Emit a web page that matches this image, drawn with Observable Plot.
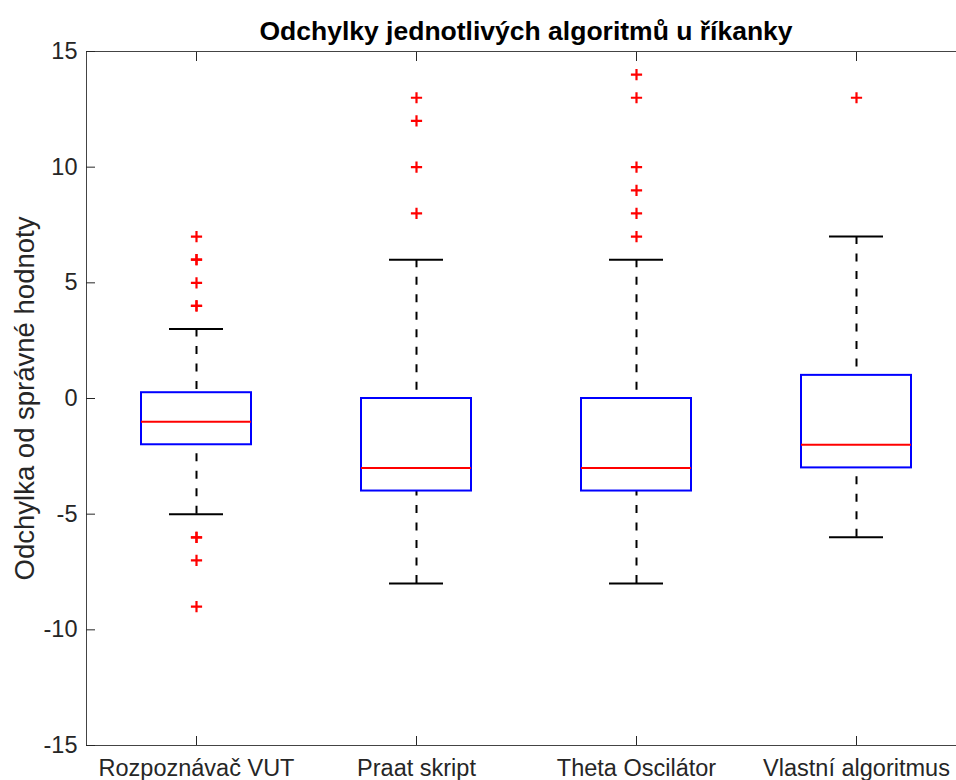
<!DOCTYPE html>
<html>
<head>
<meta charset="utf-8">
<script src="https://cdn.jsdelivr.net/npm/d3@7"></script>
<script src="https://cdn.jsdelivr.net/npm/@observablehq/plot@0.6"></script>
<style>
  html, body { margin: 0; padding: 0; overflow: hidden; background: white; width: 956px; height: 780px; }
  #wrap { position: relative; width: 956px; height: 780px; }
  #title { position: absolute; left: 526px; top: 18px; transform: translateX(-50%); white-space: nowrap;
    font: bold 26.5px "Liberation Sans", Arial, sans-serif; line-height: 26px; color: #000; z-index: 2; }
  #chart { position: absolute; left: 0; top: 0; }
</style>
</head>
<body>
<div id="wrap">
  <div id="title">Odchylky jednotlivých algoritmů u říkanky</div>
  <div id="chart"></div>
</div>
<script>
const categories = ["Rozpoznávač VUT", "Praat skript", "Theta Oscilátor", "Vlastní algoritmus"];
const q1 = [-2, -4, -4, -3];
const medians = [-1, -3, -3, -2];
const q3 = [0.25, 0, 0, 1];
const whiskerLow = [-5, -8, -8, -6];
const whiskerHigh = [3, 6, 6, 7];
const outliersVUT = [7, 6, 6, 5, 4, 4, -6, -6, -7, -9];
const outliersPraat = [13, 12, 10, 8];
const outliersTheta = [14, 13, 10, 9, 8, 7];
const outliersVlastni = [13];
const yTicks = [-15, -10, -5, 0, 5, 10, 15];
const yLabel = "Odchylka od správné hodnoty";

const boxes = categories.map((c, i) => ({
  cat: c, q1: q1[i], med: medians[i], q3: q3[i], lo: whiskerLow[i], hi: whiskerHigh[i]
}));
const outlierLists = [outliersVUT, outliersPraat, outliersTheta, outliersVlastni];
const outliers = outlierLists.flatMap((arr, i) => arr.map(v => ({cat: categories[i], v})));

const axisColor = "#262626";
const font = '"Liberation Sans", Arial, sans-serif';

const chart = Plot.plot({
  width: 956,
  height: 780,
  marginLeft: 86,
  marginTop: 51,
  marginBottom: 35,
  marginRight: 0,
  style: { fontFamily: font, fontSize: "23.5px", color: axisColor, background: "white", overflow: "visible" },
  x: { type: "band", domain: categories, range: [86, 966], padding: 0, label: null },
  y: { domain: [-15, 15], label: null },
  marks: [
    Plot.frame({ stroke: "#444", strokeWidth: 1 }),
    Plot.axisY(yTicks, { anchor: "left", tickSize: -9, tickPadding: 18, tickFormat: d => String(d), label: null, stroke: axisColor, fill: axisColor, fontSize: 23.5 }),
    Plot.axisX({ anchor: "bottom", tickSize: -9, tickPadding: 23, label: null, stroke: axisColor, fill: axisColor, fontSize: 23.5 }),
    Plot.axisX({ anchor: "top", tickSize: -9, tickFormat: () => "", label: null, stroke: axisColor }),
    // whiskers (dashed)
    Plot.ruleX(boxes, { x: "cat", y1: "hi", y2: "q3", stroke: "black", strokeWidth: 2, strokeDasharray: "8,9.5" }),
    Plot.ruleX(boxes, { x: "cat", y1: "lo", y2: "q1", stroke: "black", strokeWidth: 2, strokeDasharray: "8,9.5" }),
    // whisker caps
    Plot.tickY(boxes, { x: "cat", y: "hi", stroke: "black", strokeWidth: 2, inset: 83 }),
    Plot.tickY(boxes, { x: "cat", y: "lo", stroke: "black", strokeWidth: 2, inset: 83 }),
    // boxes
    Plot.rectY(boxes, { x: "cat", y1: "q1", y2: "q3", fill: "white", stroke: "#0000ff", strokeWidth: 2, insetLeft: 55, insetRight: 55 }),
    // medians
    Plot.tickY(boxes, { x: "cat", y: "med", stroke: "#ff0000", strokeWidth: 2, inset: 55 }),
    // outliers
    Plot.dot(outliers, { x: "cat", y: "v", symbol: "plus", fill: "none", stroke: "#ff0000", strokeWidth: 2.2, r: 3.7 }),
    // y label
    Plot.text([yLabel], { text: d => d, frameAnchor: "left", rotate: -90, dx: -53, lineAnchor: "bottom", textAnchor: "middle", fontSize: 27.5, fill: axisColor })
  ]
});
document.getElementById("chart").appendChild(chart);
</script>
</body>
</html>
